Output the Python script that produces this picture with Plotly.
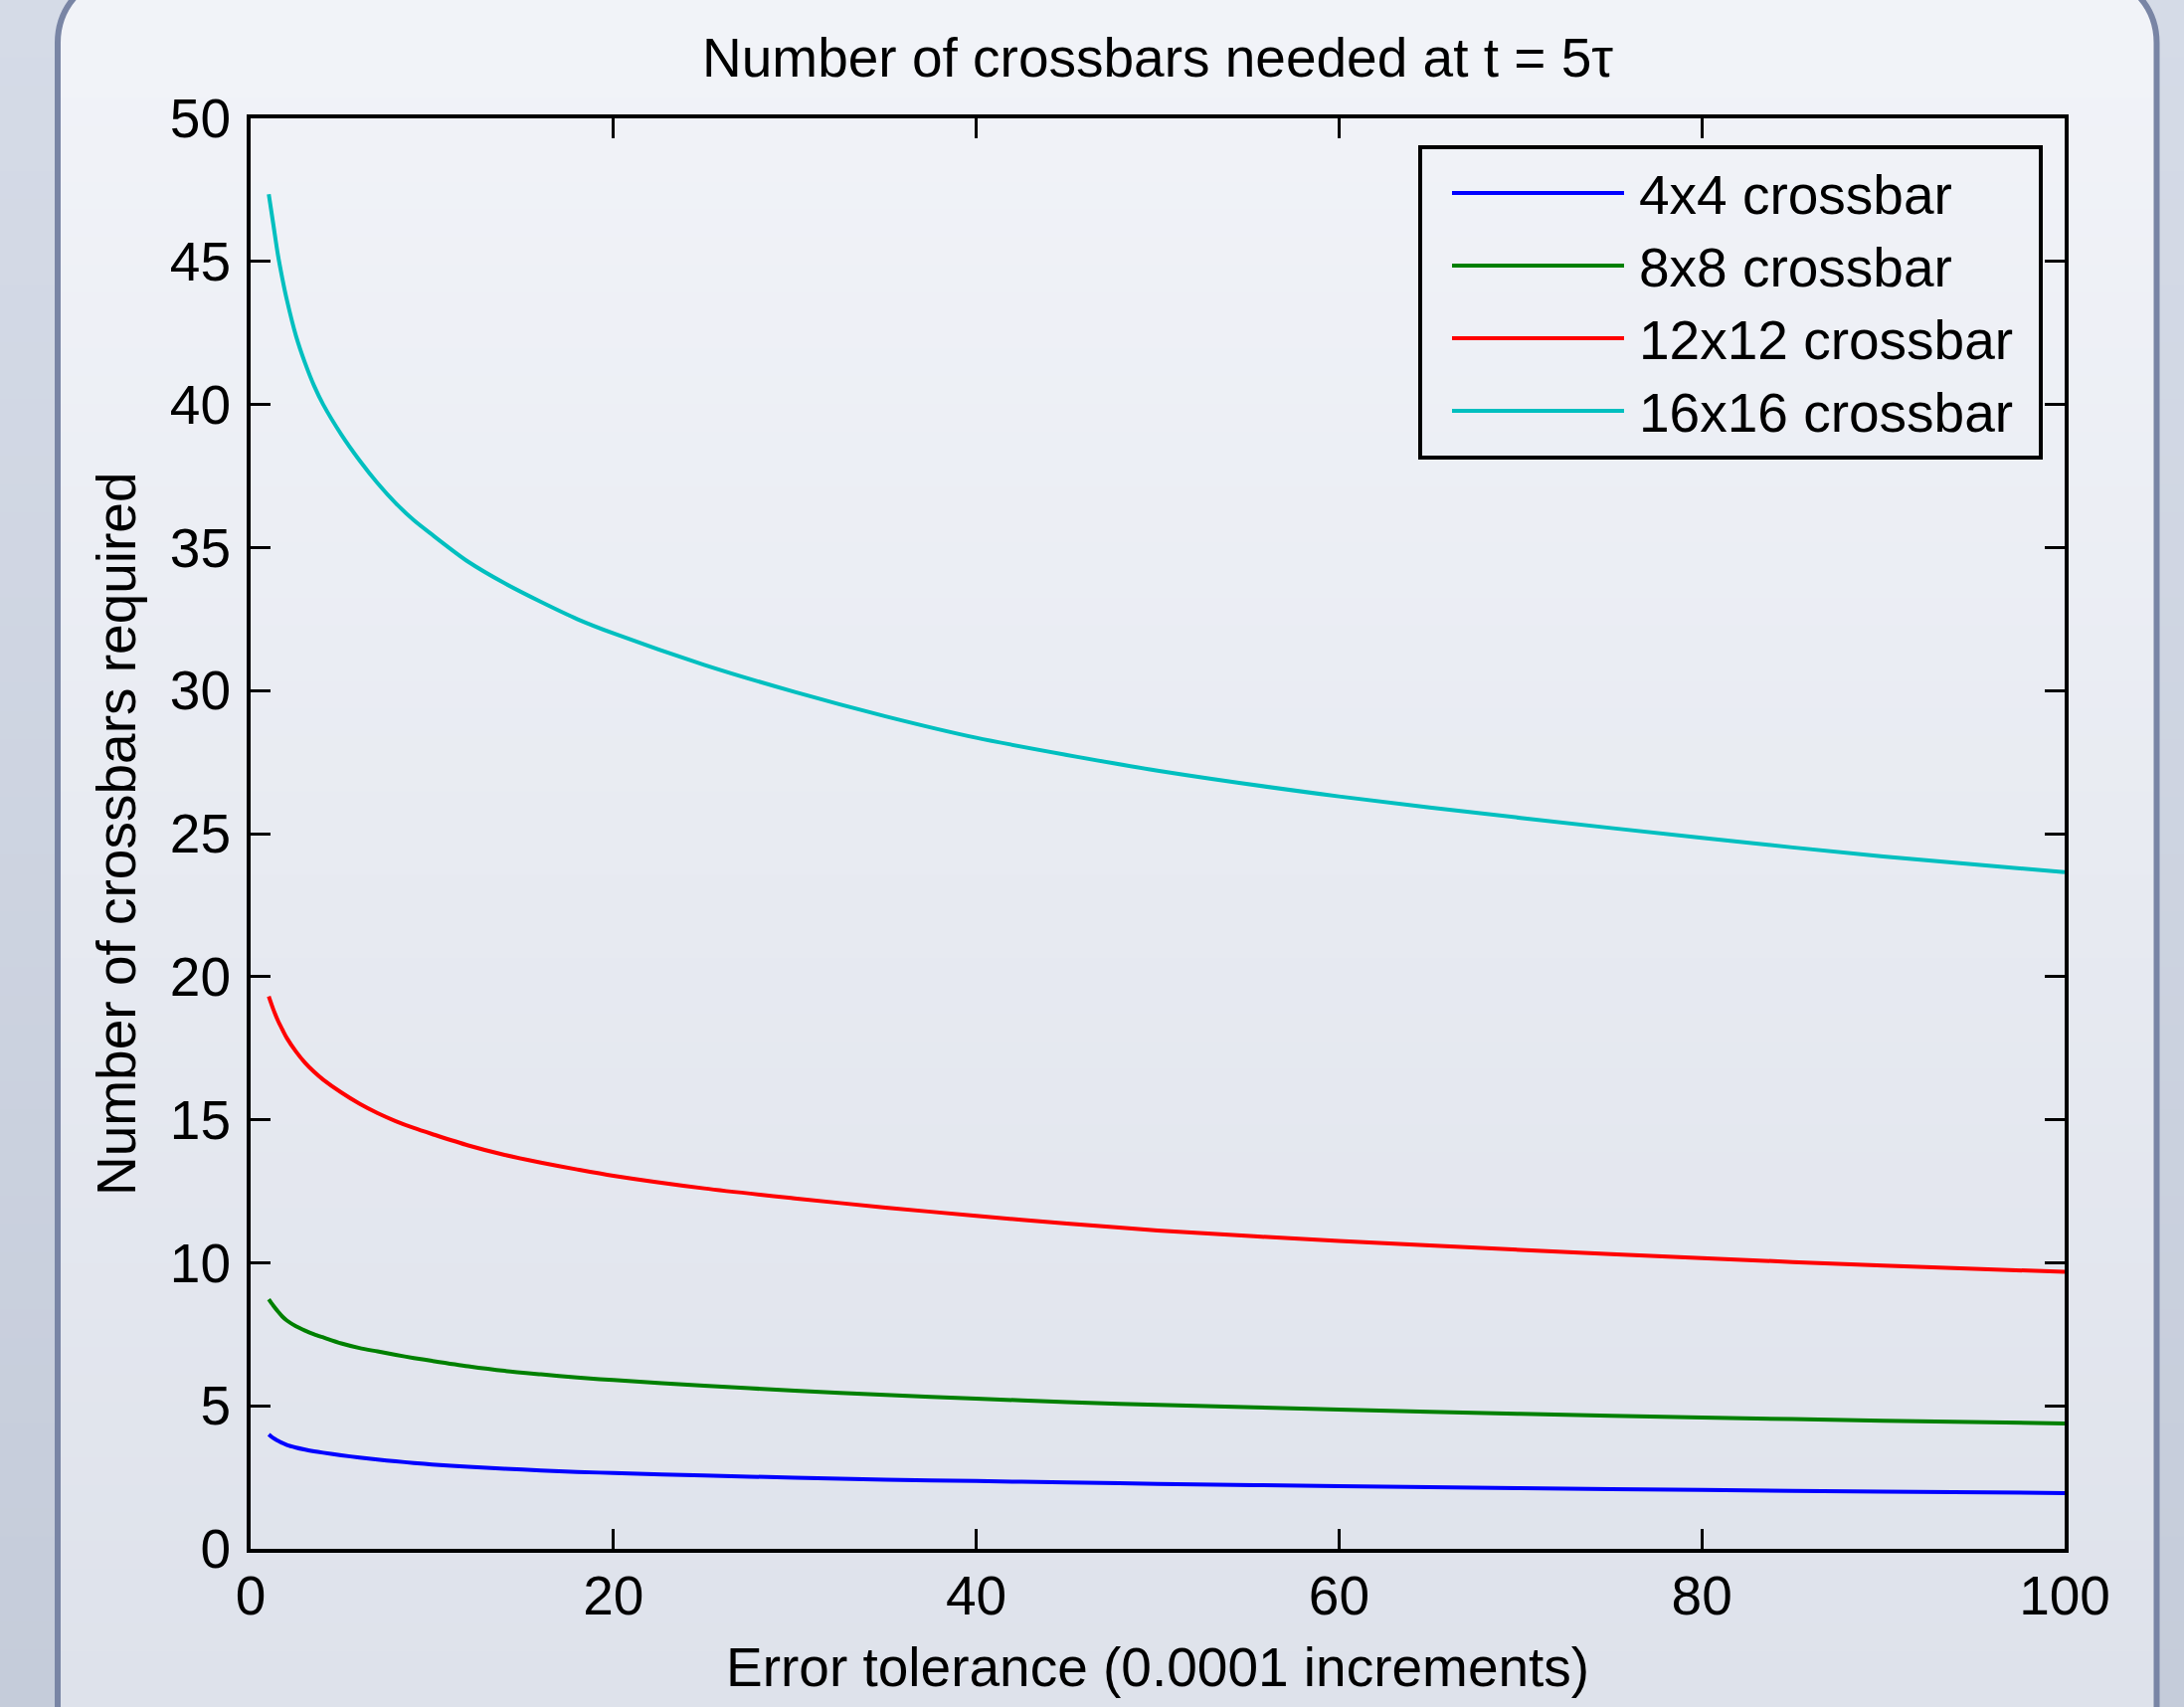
import plotly.graph_objects as go

# ---------------- data ----------------
x_tol = [1, 1.25, 1.5, 1.75, 2, 2.5, 3, 3.5, 4, 5, 6, 7, 8, 9, 10, 12, 14, 16, 18, 20,
         25, 30, 35, 40, 45, 50, 60, 70, 80, 90, 100]

cb_4x4 = [4.0, 3.87, 3.78, 3.7, 3.63, 3.54, 3.47, 3.41, 3.36, 3.27, 3.19, 3.12, 3.06, 3.0,
          2.95, 2.87, 2.8, 2.74, 2.69, 2.65, 2.56, 2.49, 2.42, 2.37, 2.32, 2.27, 2.19, 2.12,
          2.06, 2.0, 1.95]
cb_8x8 = [8.72, 8.5, 8.3, 8.12, 7.98, 7.78, 7.63, 7.5, 7.39, 7.18, 7.02, 6.9, 6.78, 6.67,
          6.57, 6.38, 6.22, 6.1, 5.99, 5.9, 5.7, 5.53, 5.38, 5.25, 5.13, 5.03, 4.87, 4.72,
          4.59, 4.48, 4.38]
cb_12x12 = [19.31, 18.86, 18.47, 18.15, 17.85, 17.38, 16.99, 16.67, 16.4, 15.95, 15.56, 15.23,
            14.95, 14.71, 14.5, 14.1, 13.77, 13.5, 13.26, 13.04, 12.6, 12.25, 11.93, 11.64,
            11.37, 11.13, 10.76, 10.45, 10.16, 9.9, 9.68]
cb_16x16 = [47.35, 46.3, 45.25, 44.4, 43.65, 42.4, 41.45, 40.65, 40.0, 38.95, 38.05, 37.25,
            36.55, 35.95, 35.45, 34.5, 33.75, 33.1, 32.5, 32.0, 30.9, 29.95, 29.1, 28.35,
            27.75, 27.2, 26.3, 25.55, 24.85, 24.2, 23.65]

series_names = ["4x4 crossbar", "8x8 crossbar", "12x12 crossbar", "16x16 crossbar"]
series_values = [cb_4x4, cb_8x8, cb_12x12, cb_16x16]
series_colors = ["#0000ff", "#008000", "#ff0000", "#00bfbf"]

x_ticks = [0, 20, 40, 60, 80, 100]
y_ticks = [0, 5, 10, 15, 20, 25, 30, 35, 40, 45, 50]

title_text = "Number of crossbars needed at t = 5τ"
x_title = "Error tolerance (0.0001 increments)"
y_title = "Number of crossbars required"

# ---------------- geometry ----------------
W, H = 2196, 1716
L, R, T, B = 252, 2076, 119, 1557
PW, PH = R - L, B - T
FONT = "Liberation Sans, Arial, Helvetica, sans-serif"
FS = 55


def px(x):
    return (x - L) / PW


def py(y):
    return (B - y) / PH


def lerp_color(c1, c2, t):
    a = [int(c1[i:i + 2], 16) for i in (1, 3, 5)]
    b = [int(c2[i:i + 2], 16) for i in (1, 3, 5)]
    return "rgb(%d,%d,%d)" % tuple(round(a[k] + (b[k] - a[k]) * t) for k in range(3))


shapes = []
# outer background gradient
NB = 60
for i in range(NB):
    y0 = H * i / NB
    y1 = H * (i + 1) / NB + 1
    shapes.append(dict(type="rect", xref="paper", yref="paper", layer="below",
                       x0=px(-5), x1=px(W + 5), y0=py(y0 - (5 if i == 0 else 0)), y1=py(y1),
                       fillcolor=lerp_color("#d5dbe7", "#c5ccda", i / (NB - 1)),
                       line=dict(width=0)))

# inner frame (rounded top corners)
FL, FR, RAD, YC = 58, 2168.5, 70, 43
k = 0.5523 * RAD
top = YC - RAD


def P(x, y):
    return "%.6f,%.6f" % (px(x), py(y))


inner_path = ("M " + P(FL, H + 20) + " L " + P(FL, YC) +
              " C " + P(FL, YC - k) + " " + P(FL + RAD - k, top) + " " + P(FL + RAD, top) +
              " L " + P(FR - RAD, top) +
              " C " + P(FR - RAD + k, top) + " " + P(FR, YC - k) + " " + P(FR, YC) +
              " L " + P(FR, H + 20))
shapes.append(dict(type="path", xref="paper", yref="paper", layer="below",
                   path=inner_path + " Z", fillcolor="#f1f3f8", line=dict(width=0)))
for i in range(NB):
    y0 = YC + (H - YC) * i / NB
    y1 = YC + (H - YC) * (i + 1) / NB + 1
    shapes.append(dict(type="rect", xref="paper", yref="paper", layer="below",
                       x0=px(FL), x1=px(FR), y0=py(y0), y1=py(y1 + (10 if i == NB - 1 else 0)),
                       fillcolor=lerp_color("#f1f3f8", "#dee2eb", i / (NB - 1)),
                       line=dict(width=0)))
shapes.append(dict(type="path", xref="paper", yref="paper", layer="below",
                   path=inner_path, line=dict(color="#7985a5", width=6)))

# legend box
LX0, LX1, LY0, LY1 = 1428, 2052, 148, 460
shapes.append(dict(type="rect", xref="paper", yref="paper", layer="above",
                   x0=px(LX0), x1=px(LX1), y0=py(LY0), y1=py(LY1),
                   line=dict(color="black", width=4), fillcolor="rgba(0,0,0,0)"))
legend_rows = [194, 267, 340, 413]
annotations = []
for name, color, yr in zip(series_names, series_colors, legend_rows):
    shapes.append(dict(type="line", xref="paper", yref="paper", layer="above",
                       x0=px(1460), x1=px(1633), y0=py(yr), y1=py(yr),
                       line=dict(color=color, width=4)))
    annotations.append(dict(xref="paper", yref="paper", x=px(1646), y=py(yr + 2),
                            xanchor="left", yanchor="middle", showarrow=False,
                            text=name, font=dict(family=FONT, size=FS, color="black")))

# axis titles
annotations.append(dict(xref="paper", yref="paper", x=0.5, y=py(1676),
                        xanchor="center", yanchor="middle", showarrow=False,
                        text=x_title, font=dict(family=FONT, size=FS, color="black")))
annotations.append(dict(xref="paper", yref="paper", x=px(117), y=0.5, textangle=-90,
                        xanchor="center", yanchor="middle", showarrow=False,
                        text=y_title, font=dict(family=FONT, size=FS, color="black")))

fig = go.Figure()
for name, vals, color in zip(series_names, series_values, series_colors):
    fig.add_trace(go.Scatter(x=x_tol, y=vals, mode="lines", name=name,
                             line=dict(color=color, width=4, shape="spline", smoothing=0.8),
                             showlegend=False))

axis_common = dict(showline=True, linecolor="black", linewidth=4, mirror="ticks",
                   ticks="inside", ticklen=20, tickwidth=3, tickcolor="black",
                   showgrid=False, zeroline=False,
                   tickfont=dict(family=FONT, size=FS, color="black"))

fig.update_layout(
    width=W, height=H,
    margin=dict(l=L, r=W - R, t=T, b=H - B, pad=0),
    paper_bgcolor="#cfd6e2",
    plot_bgcolor="rgba(0,0,0,0)",
    title=dict(text=title_text, x=px((L + R) / 2), xref="paper",
               y=1 - 58 / H, yref="container", xanchor="center", yanchor="middle",
               font=dict(family=FONT, size=FS, color="black")),
    xaxis=dict(range=[0, 100], tickvals=x_ticks, ticklabelstandoff=-4, **axis_common),
    yaxis=dict(range=[0, 50], tickvals=y_ticks, ticklabelstandoff=5, **axis_common),
    shapes=shapes,
    annotations=annotations,
    showlegend=False,
)

fig.write_html("out.html",
               config={"displayModeBar": False},
               post_script="document.body.style.margin='0';document.body.style.padding='0';"
                           "document.body.style.overflow='hidden';"
                           "document.body.style.background='#cfd6e2';")
